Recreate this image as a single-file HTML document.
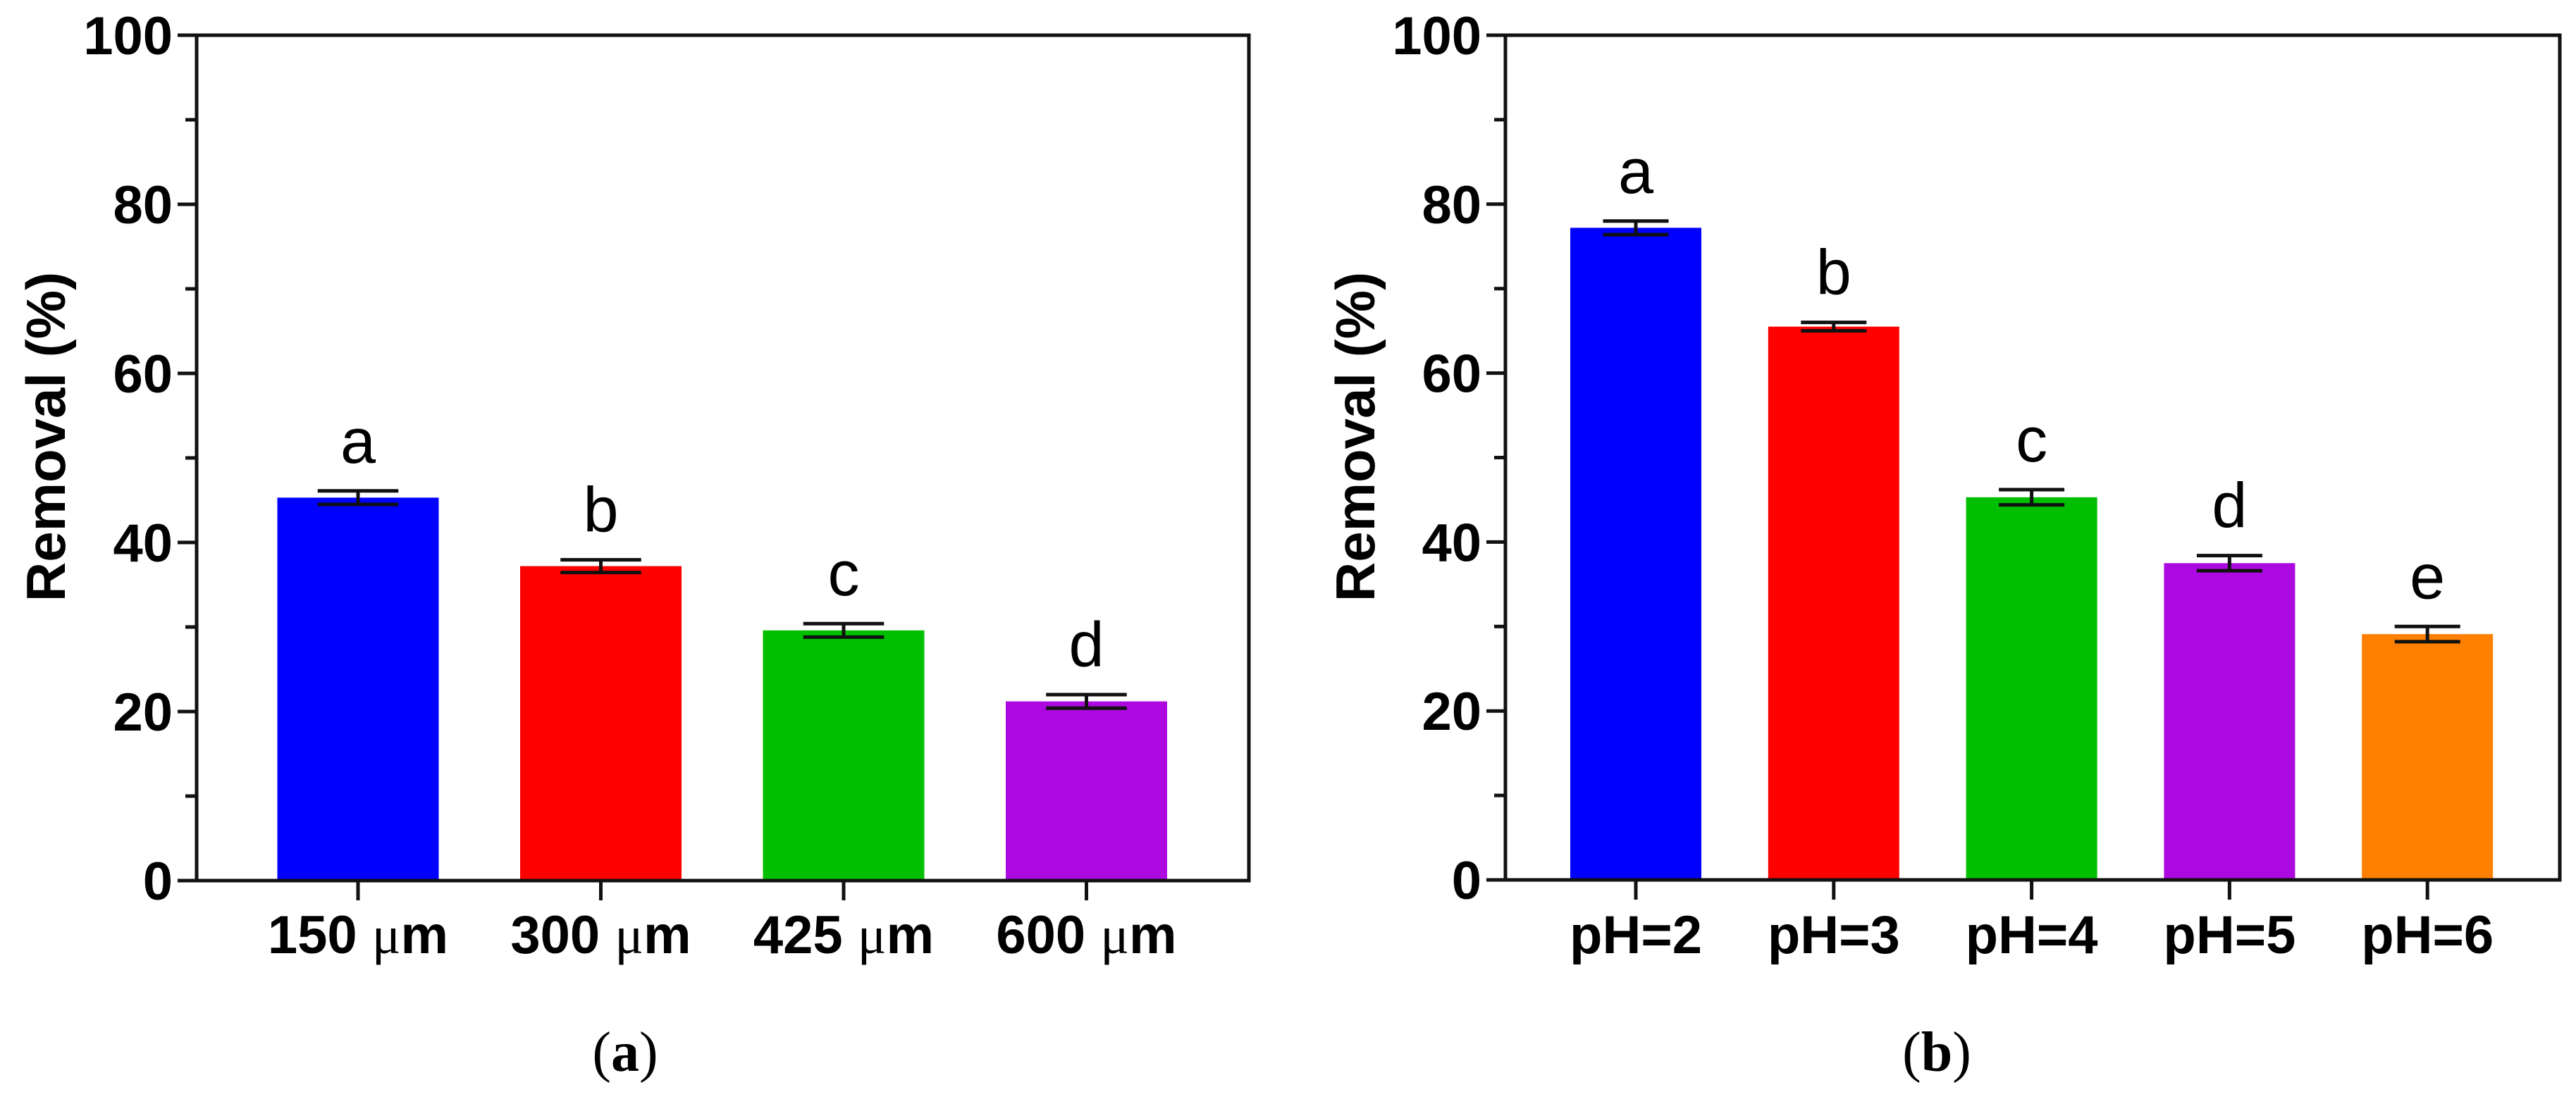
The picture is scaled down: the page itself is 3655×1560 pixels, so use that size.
<!DOCTYPE html>
<html><head><meta charset="utf-8"><style>
html,body{margin:0;padding:0;background:#fff;}
svg{display:block;}
</style></head><body>
<svg id="fig" width="3655" height="1560" viewBox="0 0 3655 1560" xmlns="http://www.w3.org/2000/svg">
<g id="pa"></g>
<g id="pb"></g>
<text x="887" y="1520" text-anchor="middle" font-family="Liberation Serif, serif" font-size="80">(<tspan font-weight="bold">a</tspan>)</text>
<text x="2748" y="1520" text-anchor="middle" font-family="Liberation Serif, serif" font-size="80">(<tspan font-weight="bold">b</tspan>)</text>
</svg>
<script>
const catsA = ["150", "300", "425", "600"];
const valsA = [45.3, 37.2, 29.6, 21.2];
const errsA = [0.8, 0.75, 0.8, 0.8];
const lettersA = ["a", "b", "c", "d"];
const colorsA = ["#0000ff", "#ff0000", "#00bf00", "#ab09e0"];

const catsB = ["pH=2", "pH=3", "pH=4", "pH=5", "pH=6"];
const valsB = [77.2, 65.5, 45.3, 37.5, 29.1];
const errsB = [0.8, 0.5, 0.9, 0.9, 0.9];
const lettersB = ["a", "b", "c", "d", "e"];
const colorsB = ["#0000ff", "#ff0000", "#00bf00", "#ab09e0", "#ff8000"];

const yTicks = [0, 20, 40, 60, 80, 100];
const yMinor = [10, 30, 50, 70, 90];

const NS = "http://www.w3.org/2000/svg";
function mk(parent, tag, attrs, text) {
  const e = document.createElementNS(NS, tag);
  for (const k in attrs) e.setAttribute(k, attrs[k]);
  if (text !== undefined) e.textContent = text;
  parent.appendChild(e);
  return e;
}

function panel(g, cfg, cats, vals, errs, letters, colors, isMicron) {
  const y = v => cfg.y0 - (cfg.y0 - cfg.y100) * v / 100;
  const x = i => cfg.firstC + i * cfg.step;
  // bars
  cats.forEach((c, i) => {
    const r = mk(g, "rect", {x: x(i) - cfg.bw / 2, y: y(vals[i]), width: cfg.bw, height: y(0) - y(vals[i]), fill: colors[i]});
    
    
    const cw = cfg.bw / 2;
    const eg = mk(g, "g", {stroke: "#111", "stroke-width": 5});
    
    
    mk(eg, "line", {x1: x(i), x2: x(i), y1: y(vals[i] + errs[i]), y2: y(vals[i] - errs[i])});
    mk(eg, "line", {x1: x(i) - cw / 2, x2: x(i) + cw / 2, y1: y(vals[i] + errs[i]), y2: y(vals[i] + errs[i])});
    mk(eg, "line", {x1: x(i) - cw / 2, x2: x(i) + cw / 2, y1: y(vals[i] - errs[i]), y2: y(vals[i] - errs[i])});
    const lt = mk(g, "text", {x: x(i), y: y(vals[i] + errs[i]) - 40, "text-anchor": "middle", "font-family": "Liberation Sans, sans-serif", "font-size": 90}, letters[i]);
    
    
    // x tick
    mk(g, "line", {x1: x(i), x2: x(i), y1: cfg.y0, y2: cfg.y0 + 28, stroke: "#111", "stroke-width": 5});
    const tl = mk(g, "text", {x: x(i), y: 1353, "text-anchor": "middle", "font-family": "Liberation Sans, sans-serif", "font-weight": "bold", "font-size": 76});
    
    
    if (isMicron) {
      tl.textContent = c + " ";
      mk(tl, "tspan", {"font-family": "Liberation Serif, serif", "font-weight": "normal"}, "\u03bc");
      mk(tl, "tspan", {}, "m");
    } else tl.textContent = c;
  });
  // frame
  const fr = mk(g, "rect", {x: cfg.xl, y: cfg.y100, width: cfg.xr - cfg.xl, height: cfg.y0 - cfg.y100, fill: "none", stroke: "#111", "stroke-width": 5});
  
  
  yTicks.forEach(t => {
    mk(g, "line", {x1: cfg.xl - 27, x2: cfg.xl, y1: y(t), y2: y(t), stroke: "#111", "stroke-width": 5});
    const tt = mk(g, "text", {x: cfg.xl - 34, y: y(t) + 27, "text-anchor": "end", "font-family": "Liberation Sans, sans-serif", "font-weight": "bold", "font-size": 76}, String(t));
    
    
  });
  yMinor.forEach(t => {
    mk(g, "line", {x1: cfg.xl - 16, x2: cfg.xl, y1: y(t), y2: y(t), stroke: "#111", "stroke-width": 5});
  });
  const yt = mk(g, "text", {x: 0, y: 0, transform: "translate(" + cfg.titleX + ",620) rotate(-90)", "text-anchor": "middle", "font-family": "Liberation Sans, sans-serif", "font-weight": "bold", "font-size": 78}, "Removal (%)");
  
  
}

panel(document.getElementById("pa"), {xl: 279, xr: 1772, y0: 1250, y100: 50, firstC: 508, step: 344.5, bw: 229, titleX: 92}, catsA, valsA, errsA, lettersA, colorsA, true);
panel(document.getElementById("pb"), {xl: 2136, xr: 3632, y0: 1249, y100: 50, firstC: 2321, step: 280.8, bw: 186, titleX: 1950}, catsB, valsB, errsB, lettersB, colorsB, false);
</script>
</body></html>
